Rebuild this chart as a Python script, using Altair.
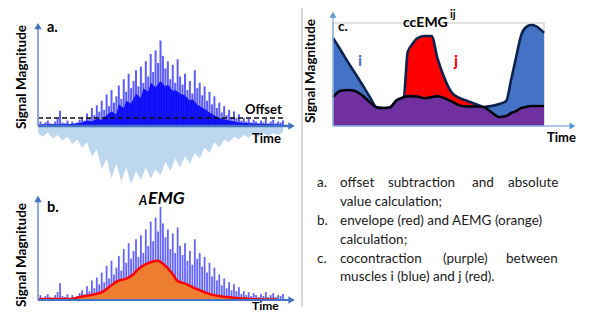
import altair as alt
import pandas as pd

# ---------------- data ----------------
# rectified EMG spikes (panels a and b), sample index 0..100
spike_t = list(range(101))
spike_v = [3, 5, 2, 4, 6, 3, 2, 5, 8, 17, 4, 3, 6, 2, 5, 3, 4, 7,
           10, 6, 14, 9, 20, 12, 23, 16,
           28, 18, 35, 22, 40, 26, 33, 45,
           30, 52, 38, 58, 42, 50, 62, 44,
           66, 48, 72, 55, 80, 60, 84, 70,
           95, 78, 64, 72, 52, 68, 48, 74, 55,
           46, 58, 40, 50, 36, 62, 42, 48,
           34, 44, 28, 38, 24, 33,
           20, 26, 15, 22, 12, 18, 10, 16, 9, 13,
           6, 9, 5, 8, 4, 7, 5, 3, 6, 4, 8, 3, 5, 7, 3, 5, 4, 6]
# dense dark core of the rectified signal (panel a)
core_t = [0, 5, 10, 15, 18, 20, 22, 24, 26, 28, 30, 32, 33, 35, 36, 38, 40, 42, 43, 45,
          46, 48, 50, 52, 53, 55, 56, 58, 60, 62, 63, 65, 66, 68, 70, 72, 74, 78, 82,
          86, 90, 95, 100]
core_v = [1.5, 2, 2, 2.5, 4, 6, 5, 8, 7, 12, 16, 13, 24, 20, 28, 25, 36, 31, 42, 38,
          48, 43, 50, 44, 46, 39, 40, 36, 34, 28, 30, 24, 22, 19, 15, 12, 9, 6, 4,
          3, 2.5, 2, 1.5]
# negative half of the raw signal (panel a, light blue)
neg_t = list(range(0, 101, 2))
neg_v = [-8, -12, -7, -14, -10, -16, -12, -20, -15, -24, -18,
         -34, -26, -48, -36, -58, -42, -62, -46, -64, -50,
         -60, -46, -58, -48, -55, -40, -50, -36, -46, -34,
         -42, -30, -36, -24, -30, -18, -24, -15, -18, -12,
         -15, -10, -13, -9, -12, -8, -11, -8, -10, -7]
offset_v = 8.9
# envelope / AEMG (panel b)
env_t = [0, 13.1, 17.1, 23.3, 26.1, 29.4, 32.2, 36.3, 38.8, 41.6, 43.7, 46.5, 49, 51,
         55.1, 56.7, 60.8, 64.9, 70.2, 77.1, 86.5, 97.6]
env_v = [1, 1, 3, 6, 8, 14, 19, 22, 26, 33, 36, 39, 40, 37,
         26, 20, 16, 11, 6, 3, 1, 0.5]
# cocontraction (panel c)
cc_t = [0, 3.3, 7.1, 10.4, 13.7, 17.5, 20.8, 23.6, 26.9, 30.2, 33.5, 35.4, 37.3, 40.1,
        43.4, 46.7, 49.5, 52.8, 56.1, 59.9, 63.7, 67.5, 71.7, 75.0, 78.8, 82.1, 84.4,
        86.8, 89.2, 91.5, 93.9, 96.2, 100]
musc_i = [85.4, 74.8, 62, 51.5, 40.8, 28, 18, 17.5, 18, 25, 28, 29, 29, 28.5,
          27, 28, 29, 27, 24, 20, 19, 19, 18.5, 19.4, 21.4, 24.3, 44.7,
          67, 88.3, 96, 98, 97, 90.3]
musc_j = [28, 34, 35, 34, 30, 23, 18, 17.5, 18, 25, 28, 71.8, 78.6, 85.4,
          87.4, 87.4, 66, 46.6, 33, 27.2, 24.3, 21.4, 18, 13.5, 8.7, 9.7, 12.6,
          14.5, 17.5, 18.5, 19.4, 19.4, 19.4]
cocon = [28, 34, 35, 34, 30, 23, 18, 17.5, 18, 25, 28, 29, 29, 28.5,
         27, 28, 29, 27, 24, 20, 19, 19, 18.5, 13.5, 8.7, 9.7, 12.6,
         14.5, 17.5, 18.5, 19.4, 19.4, 19.4]

# ---------------- layout helpers ----------------
W, H = 579, 304
FONT = "Lato"


def P(v):
    """page pixel -> chart pixel (page has an 8px margin)"""
    return v - 8


def lin(d0, d1, r0, r1):
    return alt.Scale(domain=[d0, d1], range=[P(r0), P(r1)], nice=False, zero=False)


one = pd.DataFrame({"k": [0]})


def label(txt, x, y, size, weight="bold", color="black", align="left", angle=0,
          style="normal", baseline="middle"):
    return alt.Chart(one).mark_text(
        text=txt, fontSize=size, fontWeight=weight, color=color, align=align,
        angle=angle, fontStyle=style, baseline=baseline, font=FONT
    ).encode(x=alt.value(P(x)), y=alt.value(P(y)))


def axes(xs, ys, ytop, ytip, xend, xtip, ycol, xcol, yw, xw, headc, hsize):
    ax_y = alt.Chart(one).mark_rule(color=ycol, strokeWidth=yw).encode(
        x=alt.X(datum=0, type="quantitative", scale=xs, axis=None),
        y=alt.Y(datum=0, type="quantitative", scale=ys, axis=None),
        y2=alt.Y2(datum=ytop))
    hd_y = alt.Chart(one).mark_point(shape="triangle-up", filled=True, opacity=1,
                                     color=headc, size=hsize).encode(
        x=alt.X(datum=0, type="quantitative", scale=xs, axis=None),
        y=alt.Y(datum=ytip, type="quantitative", scale=ys, axis=None))
    ax_x = alt.Chart(one).mark_rule(color=xcol, strokeWidth=xw).encode(
        x=alt.X(datum=0, type="quantitative", scale=xs, axis=None),
        x2=alt.X2(datum=xend),
        y=alt.Y(datum=0, type="quantitative", scale=ys, axis=None))
    hd_x = alt.Chart(one).mark_point(shape="triangle-right", filled=True, opacity=1,
                                     color=headc, size=hsize).encode(
        x=alt.X(datum=xtip, type="quantitative", scale=xs, axis=None),
        y=alt.Y(datum=0, type="quantitative", scale=ys, axis=None))
    return [ax_y, hd_y, ax_x, hd_x]


# ---------------- panel a ----------------
xa = lin(0, 100, 38, 283)
ya = lin(0, 100, 126, 36)
df_sp = pd.DataFrame({"t": spike_t, "v": spike_v})
neg_a = alt.Chart(pd.DataFrame({"t": neg_t, "v": neg_v})).mark_area(
    color="#bdd7ee", interpolate="linear").encode(
    x=alt.X("t:Q", scale=xa, axis=None), y=alt.Y("v:Q", scale=ya, axis=None),
    y2=alt.Y2(datum=0))
core_a = alt.Chart(pd.DataFrame({"t": core_t, "v": core_v})).mark_area(
    color="#0000f0", interpolate="linear").encode(
    x=alt.X("t:Q", scale=xa, axis=None), y=alt.Y("v:Q", scale=ya, axis=None),
    y2=alt.Y2(datum=0))
sp_a = alt.Chart(df_sp).mark_rule(color="#1f1fff", strokeWidth=2.0, opacity=0.72).encode(
    x=alt.X("t:Q", scale=xa, axis=None), y=alt.Y("v:Q", scale=ya, axis=None),
    y2=alt.Y2(datum=0))
off_a = alt.Chart(one).mark_rule(color="#111111", strokeWidth=1.6, strokeDash=[5, 3]).encode(
    x=alt.X(datum=0, type="quantitative", scale=xa, axis=None), x2=alt.X2(datum=100),
    y=alt.Y(datum=offset_v, type="quantitative", scale=ya, axis=None))
panel_a = alt.layer(neg_a, core_a, sp_a, off_a,
                    *axes(xa, ya, 108, 111, 102.5, 103.5, "#8faadc", "#4472c4",
                          2, 2.5, "#4472c4", 55))

# ---------------- panel b ----------------
xb = lin(0, 100, 38, 283)
yb = lin(0, 100, 300, 202)
sp_b = alt.Chart(df_sp).mark_rule(color="#2222ff", strokeWidth=1.8, opacity=0.7).encode(
    x=alt.X("t:Q", scale=xb, axis=None), y=alt.Y("v:Q", scale=yb, axis=None),
    y2=alt.Y2(datum=0))
df_env = pd.DataFrame({"t": env_t, "v": env_v})
env_area = alt.Chart(df_env).mark_area(color="#ed7d31", interpolate="monotone").encode(
    x=alt.X("t:Q", scale=xb, axis=None), y=alt.Y("v:Q", scale=yb, axis=None),
    y2=alt.Y2(datum=0))
env_line = alt.Chart(df_env).mark_line(color="#ff0000", strokeWidth=2.5,
                                       interpolate="monotone").encode(
    x=alt.X("t:Q", scale=xb, axis=None), y=alt.Y("v:Q", scale=yb, axis=None))
panel_b = alt.layer(sp_b, env_area, env_line,
                    *axes(xb, yb, 101, 103, 102.5, 103.5, "#8faadc", "#4472c4",
                          2, 2, "#4472c4", 55))

# ---------------- panel c ----------------
xc = lin(0, 100, 333, 544)
yc = lin(0, 100, 126, 23)
df_c = pd.DataFrame({"t": cc_t, "i": musc_i, "j": musc_j, "cc": cocon})
box_c = alt.Chart(one).mark_rect(fill=None, stroke="#c8c8c8", strokeWidth=1.2).encode(
    x=alt.X(datum=0, type="quantitative", scale=xc, axis=None), x2=alt.X2(datum=100),
    y=alt.Y(datum=0, type="quantitative", scale=yc, axis=None), y2=alt.Y2(datum=100))


def c_area(col, color):
    return alt.Chart(df_c).mark_area(color=color, interpolate="monotone").encode(
        x=alt.X("t:Q", scale=xc, axis=None), y=alt.Y(f"{col}:Q", scale=yc, axis=None),
        y2=alt.Y2(datum=0))


def c_line(col, color, w):
    return alt.Chart(df_c).mark_line(color=color, strokeWidth=w, interpolate="monotone",
                                     strokeJoin="round").encode(
        x=alt.X("t:Q", scale=xc, axis=None), y=alt.Y(f"{col}:Q", scale=yc, axis=None))


panel_c = alt.layer(
    box_c,
    c_area("i", "#4472c4"), c_area("j", "#ff0000"), c_area("cc", "#7030a0"),
    c_line("i", "#0c2350", 2.6), c_line("j", "#0c2350", 2.6), c_line("cc", "#000000", 2),
    *axes(xc, yc, 106, 108, 112.5, 113.5, "#8fb4e3", "#8fb4e3", 1.5, 1.5, "#5b9bd5", 50))

# ---------------- separator ----------------
sep = alt.Chart(one).mark_rule(color="#b4b4b4", strokeWidth=1).encode(
    x=alt.value(P(302)), y=alt.value(P(8)), y2=alt.value(P(307)))

# ---------------- texts ----------------
texts = [
    label("Signal Magnitude", 22, 77, 13.5, angle=270, align="center"),
    label("a.", 47, 28, 14.5),
    label("Offset", 245, 110, 13),
    label("Time", 252, 139, 13),
    label("Signal Magnitude", 22, 255, 13.5, angle=270, align="center"),
    label("b.", 47, 208, 14.5),
    label("A", 139, 201, 12.5, style="italic"),
    label("EMG", 148, 199, 17.5, style="italic"),
    label("Time", 252, 306, 12),
    label("Signal Magnitude", 311, 71, 13.5, angle=270, align="center"),
    label("c.", 338, 27, 13.5),
    label("ccEMG", 403, 23, 14),
    label("ij", 450, 15, 11),
    label("i", 360, 61, 16, color="#4472c4", align="center"),
    label("j", 456, 61, 16, color="#ff0000", align="center"),
    label("Time", 547, 138, 13),
]

TS = 13.5
TC = "#1a1a1a"
body = [
    (317, 183, "a."), (340, 183, "offset"), (388, 183, "subtraction"),
    (472, 183, "and"), (508, 183, "absolute"),
    (340, 202, "value calculation;"),
    (317, 221, "b."), (340, 221, "envelope (red) and AEMG (orange)"),
    (340, 240, "calculation;"),
    (317, 259, "c."), (340, 259, "cocontraction"), (443, 259, "(purple)"),
    (506, 259, "between"),
    (340, 277, "muscles i (blue) and j (red)."),
]
for bx, by, bt in body:
    texts.append(label(bt, bx, by, TS, weight="normal", color=TC))

chart = alt.layer(panel_a, panel_b, panel_c, sep, *texts).resolve_scale(
    x="independent", y="independent"
).properties(
    width=W, height=H, padding=0, autosize=alt.AutoSizeParams(type="none")
).configure_view(stroke=None)

chart.save("out.html", embed_options={"renderer": "svg", "actions": False})
